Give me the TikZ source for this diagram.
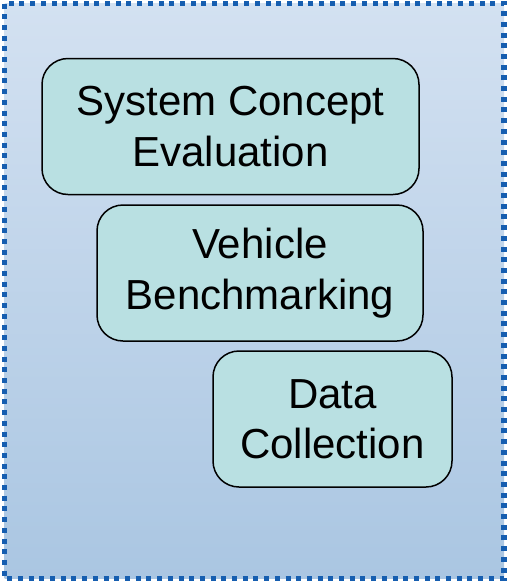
\documentclass[tikz,border=0pt]{standalone}
\usepackage{fontspec}
\setmainfont{Liberation Sans}
\definecolor{panelTop}{RGB}{211,225,241}
\definecolor{panelBottom}{RGB}{170,198,226}
\definecolor{dotBlue}{RGB}{22,94,176}
\definecolor{boxFill}{RGB}{185,224,226}
\begin{document}
\begin{tikzpicture}[x=1pt, y=-1pt]
			\tikzstyle{panel} = [draw=dotBlue, line width=5.2pt, dash pattern=on 5pt off 5.7pt, top color=panelTop, bottom color=panelBottom]
			\tikzstyle{task}  = [rounded corners=26pt, draw=black, line width=1.5pt, fill=boxFill, align=center, inner sep=0pt, font=\fontsize{42}{50.4}\selectfont]

			\useasboundingbox (0, 0) rectangle (507, 582);
			\path[panel] (4.7, 3.5) rectangle (504, 578.7);

			\foreach \name/\x/\y/\w/\txt in {sce/230.5/126.5/377/{System Concept\\Evaluation}, vb/260/273/326/{Vehicle\\Benchmarking}, dc/332.5/419/239/{Data\\Collection}}
				\node[task, minimum width=\w pt, minimum height=136pt] (\name) at (\x, \y) {\txt};
		\end{tikzpicture}
\end{document}
